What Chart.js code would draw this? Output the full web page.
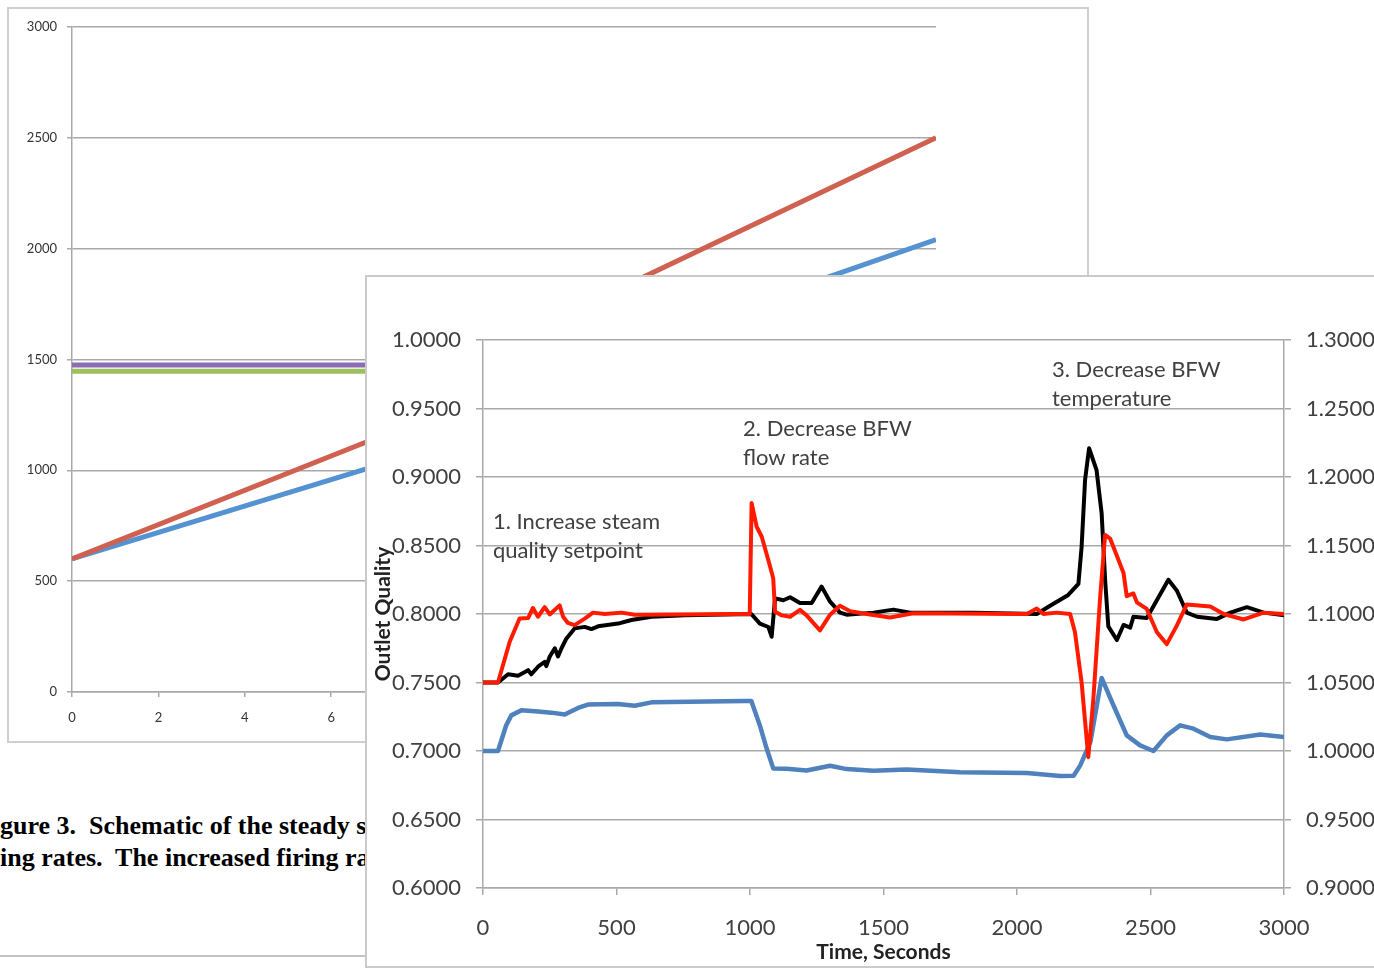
<!DOCTYPE html>
<html>
<head>
<meta charset="utf-8">
<script src="https://cdn.jsdelivr.net/npm/chart.js@4.4.1/dist/chart.umd.min.js"></script>
<style>
  html, body { margin: 0; padding: 0; background: #fff; }
  body { width: 1374px; height: 968px; position: relative; overflow: hidden; }
  .frame { position: absolute; box-sizing: border-box; background: #fff; }
  #backFrame { left: 7px; top: 7px; width: 1082px; height: 736px; border: 2px solid #cfcfcf; z-index: 1; }
  #frontFrame { left: 365px; top: 275px; width: 1020px; height: 693px; border: 2px solid #cacaca; z-index: 4; }
  .caption { position: absolute; left: 0; white-space: pre; font: bold 26px "Liberation Serif", "Times New Roman", serif; color: #000; z-index: 2; }
  #rule { position: absolute; left: 0; top: 955px; width: 900px; height: 2px; background: #c4c4c4; z-index: 2; }
</style>
</head>
<body>
<div id="backFrame" class="frame"><canvas id="backChart" width="1078" height="732"></canvas></div>
<div class="caption" id="cap1" style="top: 811px;"></div>
<div class="caption" id="cap2" style="top: 843px;"></div>
<div id="rule"></div>
<div id="frontFrame" class="frame"><canvas id="frontChart" width="1016" height="689"></canvas></div>

<script>
// ---- background chart (partly hidden) ----
const backYTicks = [0, 500, 1000, 1500, 2000, 2500, 3000];
const redX = [0, 7, 13, 20];
const redY = [600, 1142, 1850, 2500];
const blueX = [0, 7, 17, 20];
const blueY = [600, 1018, 1837, 2040];
const purpleX = [0, 20];
const purpleY = [1475, 1475];
const greenX = [0, 20];
const greenY = [1447, 1447];

// ---- front chart: step responses ----
const leftTicks = [0.60, 0.65, 0.70, 0.75, 0.80, 0.85, 0.90, 0.95, 1.00];
const rightTicks = [0.90, 0.95, 1.00, 1.05, 1.10, 1.15, 1.20, 1.25, 1.30];
const timeTicks = [0, 500, 1000, 1500, 2000, 2500, 3000];

const redT = [0, 56, 100, 137, 169, 187, 206, 231, 250, 287, 300, 318, 343, 381, 412, 456, 519, 569, 981, 999,
  1006, 1025, 1044, 1062, 1081, 1087, 1094, 1119, 1150, 1187, 1212, 1262, 1300, 1337, 1375, 1437, 1524, 1612,
  2037, 2074, 2099, 2149, 2199, 2217, 2242, 2267, 2286, 2311, 2330, 2349, 2374, 2399, 2411, 2436, 2449, 2486,
  2524, 2561, 2599, 2636, 2724, 2774, 2849, 2924, 3000];
const redQ = [0.750, 0.750, 0.7797, 0.7967, 0.797, 0.8044, 0.798, 0.805, 0.7997, 0.8063, 0.798, 0.7935, 0.7919,
  0.7966, 0.801, 0.800, 0.801, 0.7995, 0.800, 0.800,
  0.881, 0.8637, 0.8564, 0.844, 0.8305, 0.826, 0.8016, 0.799, 0.798, 0.803, 0.799, 0.788, 0.7995, 0.806, 0.802,
  0.800, 0.7975, 0.8005,
  0.800, 0.804, 0.800, 0.801, 0.800, 0.7868, 0.750, 0.6955, 0.738, 0.811, 0.8577, 0.855, 0.8425, 0.830, 0.813,
  0.815, 0.8085, 0.8037, 0.7867, 0.778, 0.7917, 0.807, 0.8055, 0.800, 0.796, 0.801, 0.800];

const blackT = [0, 56, 94, 131, 169, 181, 206, 231, 237, 250, 269, 281, 294, 312, 343, 381, 406, 431, 506, 556,
  631, 756, 856, 1005, 1037, 1069, 1081, 1094, 1125, 1150, 1187, 1231, 1268, 1300, 1337, 1362, 1462, 1537, 1600,
  1837, 2074, 2124, 2192, 2230, 2242, 2255, 2270, 2298, 2317, 2330, 2342, 2374, 2399, 2424, 2436, 2486, 2511,
  2567, 2599, 2636, 2674, 2749, 2799, 2861, 2924, 3000];
const blackQ = [0.750, 0.750, 0.756, 0.755, 0.759, 0.756, 0.7615, 0.765, 0.762, 0.769, 0.775, 0.769, 0.775, 0.782,
  0.7895, 0.7906, 0.789, 0.791, 0.793, 0.7956, 0.798, 0.799, 0.7995, 0.800, 0.793, 0.7905, 0.7834, 0.8114, 0.810,
  0.8122, 0.808, 0.808, 0.820, 0.809, 0.801, 0.7995, 0.801, 0.8032, 0.801,
  0.801, 0.800, 0.806, 0.8139, 0.822, 0.849, 0.898, 0.921, 0.905, 0.8735, 0.825, 0.791, 0.781, 0.792, 0.790,
  0.798, 0.797, 0.8056, 0.825, 0.817, 0.801, 0.798, 0.7964, 0.801, 0.805, 0.801, 0.799];

const blueT = [0, 56, 87, 106, 144, 206, 256, 306, 356, 393, 506, 568, 631, 981, 1005, 1037, 1062, 1087, 1137,
  1212, 1300, 1362, 1462, 1587, 1787, 2037, 2162, 2212, 2237, 2275, 2317, 2361, 2411, 2461, 2511, 2561, 2611,
  2661, 2724, 2786, 2911, 3000];
const blueV = [1.000, 1.000, 1.0188, 1.026, 1.0297, 1.0289, 1.028, 1.0266, 1.0314, 1.0339, 1.0343, 1.033, 1.0355,
  1.0365, 1.0365, 1.0187, 1.002, 0.9873, 0.987, 0.9858, 0.9892, 0.9868, 0.9855, 0.9865, 0.9845, 0.984, 0.9818,
  0.982, 0.9895, 1.0066, 1.0533, 1.0334, 1.0114, 1.0041, 1.000, 1.0114, 1.0187, 1.0163, 1.0102, 1.0085, 1.012,
  1.0102];

const notes = [
  { t: 37, q: 0.867, lines: ['1. Increase steam', 'quality setpoint'] },
  { t: 974, q: 0.935, lines: ['2. Decrease BFW', 'flow rate'] },
  { t: 2131, q: 0.978, lines: ['3. Decrease BFW', 'temperature'] }
];

const captionLines = [
  { hidden: 'Fi', text: 'Figure 3.  Schematic of the steady state' },
  { hidden: 'fir', text: 'firing rates.  The increased firing rate' }
];

function pts(xs, ys) {
  return xs.map((x, i) => ({ x: x, y: ys[i] }));
}

// captions, pushed left so the cut matches the page
(function placeCaptions() {
  const ctx = document.createElement('canvas').getContext('2d');
  ctx.font = 'bold 26px "Liberation Serif"';
  captionLines.forEach((c, i) => {
    const el = document.getElementById('cap' + (i + 1));
    el.textContent = c.text;
    el.style.left = (-ctx.measureText(c.hidden).width) + 'px';
  });
})();

const gridGray = '#a9a9a9';
const plain = v => String(v);

new Chart(document.getElementById('backChart'), {
  type: 'line',
  data: {
    datasets: [
      { data: pts(redX, redY), borderColor: '#d0604f', borderWidth: 5 },
      { data: pts(blueX, blueY), borderColor: '#5592d2', borderWidth: 5 },
      { data: pts(purpleX, purpleY), borderColor: '#8b6db3', borderWidth: 5 },
      { data: pts(greenX, greenY), borderColor: '#9cc05e', borderWidth: 5 }
    ]
  },
  options: {
    responsive: false,
    animation: false,
    devicePixelRatio: 1,
    layout: { padding: { top: 15, right: 151, left: 0, bottom: 0 } },
    elements: { point: { radius: 0 }, line: { tension: 0, borderCapStyle: 'butt' } },
    plugins: { legend: { display: false }, tooltip: { enabled: false } },
    scales: {
      x: {
        type: 'linear', min: 0, max: 20,
        ticks: { stepSize: 2, padding: 13, color: '#333', font: { family: 'Lato', size: 13 }, callback: plain },
        grid: { drawOnChartArea: false, color: gridGray, tickLength: 5, lineWidth: 1.5 },
        border: { color: gridGray, width: 1.5 },
        afterFit: s => { s.height = 49; }
      },
      y: {
        min: 0, max: 3000,
        afterBuildTicks: s => { s.ticks = backYTicks.map(v => ({ value: v })); },
        ticks: { padding: 10, color: '#333', font: { family: 'Lato', size: 13 }, callback: plain },
        grid: { color: gridGray, tickLength: 5, lineWidth: 1.5 },
        border: { color: gridGray, width: 1.5 },
        afterFit: s => { s.width = 63; }
      }
    }
  }
});

const notePlugin = {
  id: 'notes',
  afterDraw(chart) {
    const { ctx, scales } = chart;
    ctx.save();
    ctx.font = '22px Lato';
    ctx.fillStyle = '#404040';
    ctx.textAlign = 'left';
    ctx.textBaseline = 'middle';
    notes.forEach(n => {
      const x = scales.x.getPixelForValue(n.t);
      const y = scales.y.getPixelForValue(n.q);
      n.lines.forEach((line, i) => ctx.fillText(line, x, y + i * 29));
    });
    ctx.restore();
  }
};

const tickFont = { family: 'Lato', size: 22 };
const titleFont = { family: 'Lato', size: 21, weight: 'bold' };

new Chart(document.getElementById('frontChart'), {
  type: 'line',
  data: {
    datasets: [
      { data: pts(redT, redQ), borderColor: '#ff1a00', borderWidth: 4, yAxisID: 'y' },
      { data: pts(blackT, blackQ), borderColor: '#000000', borderWidth: 4, yAxisID: 'y' },
      { data: pts(blueT, blueV), borderColor: '#4f81bd', borderWidth: 4.5, yAxisID: 'y1' }
    ]
  },
  options: {
    responsive: false,
    animation: false,
    devicePixelRatio: 1,
    layout: { padding: { top: 63, right: 0, left: 0, bottom: 0 } },
    elements: { point: { radius: 0 }, line: { tension: 0, borderJoinStyle: 'round' } },
    plugins: { legend: { display: false }, tooltip: { enabled: false } },
    scales: {
      x: {
        type: 'linear', min: 0, max: 3000,
        afterBuildTicks: s => { s.ticks = timeTicks.map(v => ({ value: v })); },
        ticks: { padding: 20, color: '#404040', font: tickFont, callback: plain },
        grid: { drawOnChartArea: false, color: gridGray, tickLength: 7, lineWidth: 1.5 },
        border: { color: gridGray, width: 1.5 },
        title: { display: true, text: 'Time, Seconds', color: '#222', font: titleFont, padding: { top: 0, bottom: 1 } },
        afterFit: s => { s.height = 78; }
      },
      y: {
        position: 'left', min: 0.6, max: 1.0,
        afterBuildTicks: s => { s.ticks = leftTicks.map(v => ({ value: v })); },
        ticks: { padding: 15, color: '#404040', font: tickFont, callback: v => v.toFixed(4) },
        grid: { color: gridGray, tickLength: 7, lineWidth: 1.5 },
        border: { color: gridGray, width: 1.5 },
        title: { display: true, text: 'Outlet Quality', color: '#222', font: titleFont, padding: { top: 4, bottom: 0 } },
        afterFit: s => { s.width = 116; }
      },
      y1: {
        position: 'right', min: 0.9, max: 1.3,
        afterBuildTicks: s => { s.ticks = rightTicks.map(v => ({ value: v })); },
        ticks: { padding: 15, color: '#404040', font: tickFont, callback: v => v.toFixed(4) },
        grid: { drawOnChartArea: false, color: gridGray, tickLength: 7, lineWidth: 1.5 },
        border: { color: gridGray, width: 1.5 },
        afterFit: s => { s.width = 99; }
      }
    }
  },
  plugins: [notePlugin]
});
</script>
</body>
</html>
